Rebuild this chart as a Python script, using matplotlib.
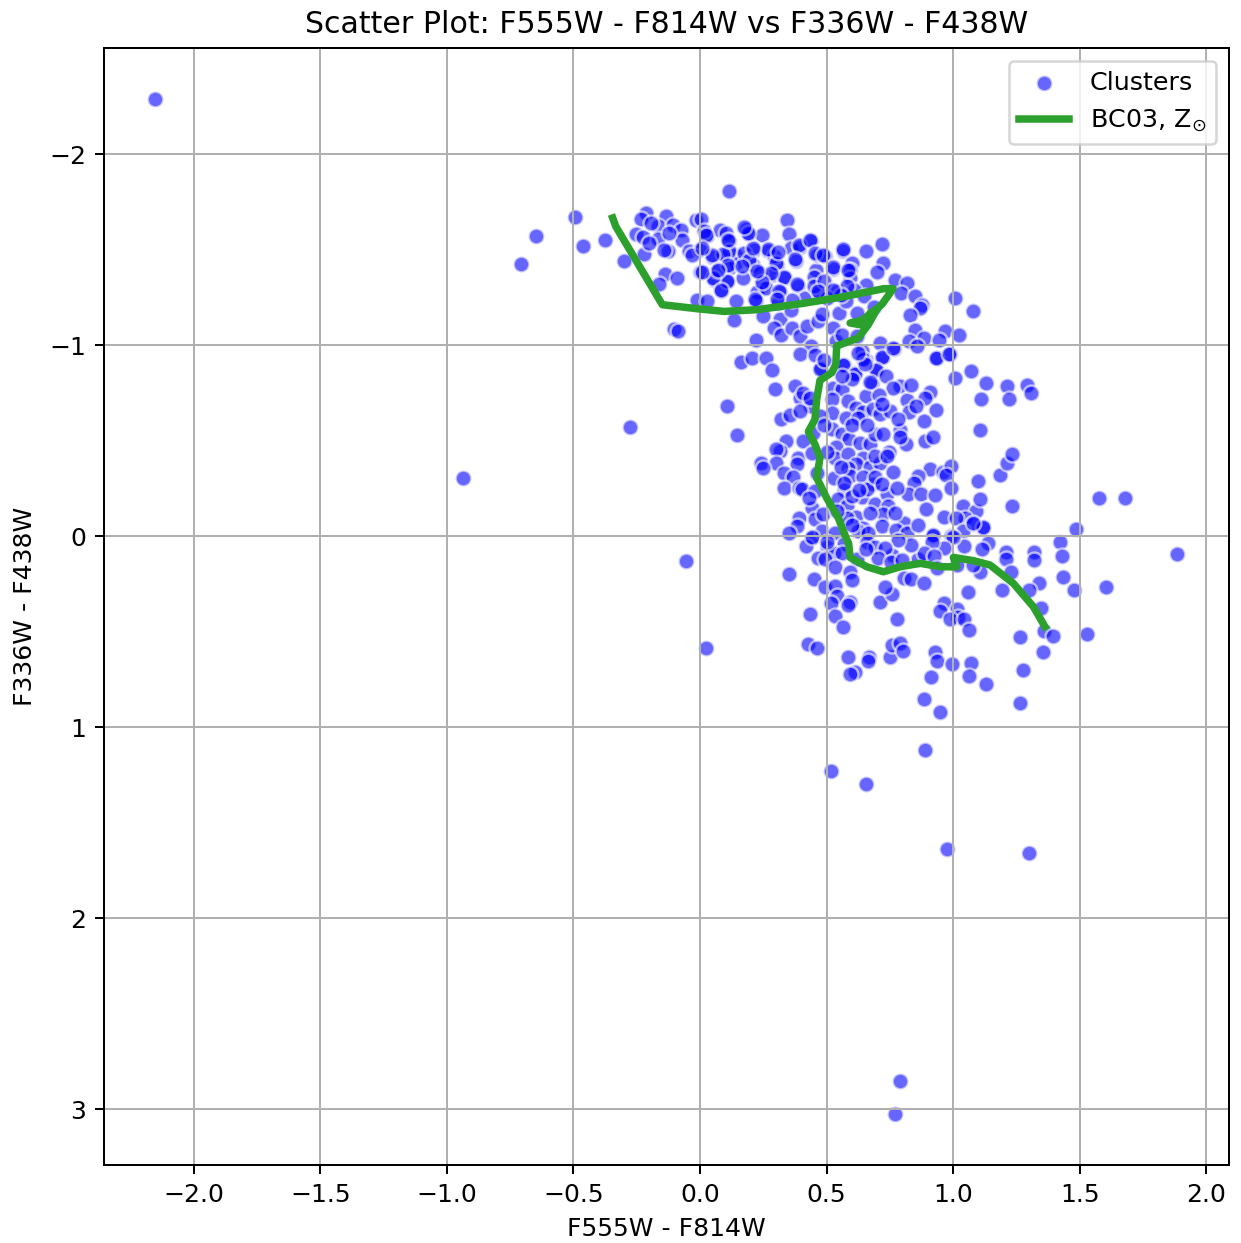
import matplotlib
matplotlib.use("Agg")
import matplotlib.pyplot as plt

clusters_upper = [
(.114,-1.805),(-.214,-1.69),(-.136,-1.674),(-.232,-1.66),(-.017,-1.653),(.003,-1.661),(-.166,-1.621),(-.105,-1.63),
(-.076,-1.6),(-.254,-1.58),(-.224,-1.567),(-.166,-1.555),(-.376,-1.548),(-.072,-1.551),(-.125,-1.494),(-.221,-1.476),
(-.043,-1.49),(0,-1.5),(-.3,-1.438),(-.138,-1.372),(-.092,-1.351),(-.162,-1.321),(0,-1.38),(.026,-1.57),(.079,-1.6),
(.101,-1.586),(.18,-1.61),(.193,-1.58),(.243,-1.578),(.114,-1.543),(.092,-1.46),(.141,-1.473),(.213,-1.496),(.27,-1.49),
(.342,-1.653),(.351,-1.58),(.358,-1.508),(.395,-1.511),(.437,-1.543),(.303,-1.415),(.378,-1.44),(.21,-1.417),(.141,-1.43),
(.114,-1.403),(.055,-1.342),(.108,-1.328),(.171,-1.351),(.084,-1.284),(.286,-1.368),(.334,-1.351),(.388,-1.311),(.243,-1.311),
(.226,-1.277),(.316,-1.277),(.22,-1.232),(.141,-1.232),(-.011,-1.237),(.029,-1.229),(.134,-1.133),(.25,-1.15),(.316,-1.136),
(.292,-1.089),(.321,-1.05),(.364,-1.089),(.393,-1.045),(.424,-1.098),(.466,-1.124),(.483,-1.162),(.414,-1.246),(.358,-1.185),
(.309,-1.22),(.472,-1.272),(.542,-1.281),(.457,-1.394),(.45,-1.354),(.526,-1.398),(.463,-1.473),(.492,-1.464),(.564,-1.494),
(.657,-1.494),(.717,-1.53),(.722,-1.429),(.599,-1.429),(.592,-1.391),(.592,-1.351),(.7,-1.38),(.657,-1.312),(.608,-1.29),
(.772,-1.342),(.818,-1.325),(.795,-1.272),(.849,-1.255),(.878,-1.211),(.871,-1.194),(.829,-1.159),(1.009,-1.244),(1.079,-1.18),
(.851,-1.077),(.966,-1.075),(.884,-1.037),(.825,-1.019),(.943,-1.028),(1.022,-1.054),(.858,-.993),(.937,-.932),(.987,-.953),
(.766,-.979),(.724,-.935),(.713,-1.01),(.654,-.923),(.641,-.967),(.549,-1.168),(.621,-1.168),(.575,-1.229),(.647,-1.255),
(.689,-1.197),(.525,-1.089),(.536,-1.019),(.562,-1.054),(.621,-1.045),(.437,-.993),(.393,-.953),(.454,-.949),(.22,-1.028),
(.163,-.911),(.207,-.932),(.259,-.932),(.286,-.871),(-.103,-1.086),(-.087,-1.072),(.476,-.88),(.568,-.897),(.608,-.853),
(.7,-.871),(1.071,-.862),(-.195,-1.639),(-.122,-1.586),(-.201,-1.534),(-.141,-1.499),(.016,-1.595),(.049,-1.459),(-.03,-1.473),
(.068,-1.386),(.114,-1.49),(.174,-1.482),(.193,-1.447),(.237,-1.377),(.292,-1.464),(.26,-1.298),(.364,-1.237),(.45,-1.307),
(.503,-1.246),(.582,-1.307),(.489,-1.333),(.555,-1.263),
]

clusters_upper_dense = [
(.391,-1.524),(.435,-1.55),(.375,-1.449),(.563,-1.501),(.455,-1.48),(.487,-1.471),
(.527,-1.407),(.586,-1.393),(.3,-1.428),(.332,-1.358),(.281,-1.375),(.385,-1.318),(.312,-1.283),(.244,-1.332),
(.468,-1.283),(.217,-1.239),(.105,-1.337),(.053,-1.349),(.082,-1.288),
(.267,-1.501),(.208,-1.506),(.09,-1.475),(.112,-1.419),(.165,-1.414),(.224,-1.389),
(.188,-1.585),(.174,-1.62),(.024,-1.576),(.112,-1.55),(.046,-1.471),(.007,-1.506),(.007,-1.384),
(.072,-1.393),(.527,-1.288),(.31,-1.489),(.303,-1.239),
]

clusters_middle = [
(.645,-.925),(.717,-.937),(.763,-.983),(.932,-.934),(.984,-.951),(.566,-.895),(.474,-.873),(1.128,-.803),(1.007,-.829),
(1.211,-.785),(1.292,-.791),(1.309,-.75),(1.112,-.716),(1.221,-.716),(.296,-.771),(.375,-.785),(.105,-.681),(.147,-.527),
(.318,-.611),(.355,-.633),(.395,-.724),(.434,-.681),(.408,-.75),(.395,-.654),(.526,-.777),(.559,-.768),(.612,-.846),(.599,-.82),
(.678,-.803),(.697,-.867),(.734,-.838),(.789,-.785),(.763,-.777),(.655,-.733),(.708,-.736),(.52,-.716),(.583,-.707),(.618,-.672),
(.645,-.651),(.684,-.663),(.711,-.64),(.75,-.654),(.816,-.71),(.908,-.756),(.888,-.724),(.826,-.651),(.932,-.66),(.884,-.602),
(.789,-.553),(.783,-.611),(.52,-.646),(.474,-.628),(.575,-.62),(.625,-.616),(.447,-.541),(.52,-.558),(.559,-.532),(.589,-.506),
(.634,-.489),(.671,-.48),(.691,-.536),(.724,-.532),(.813,-.48),(.888,-.497),(.921,-.518),(1.105,-.555),(.339,-.497),(.316,-.445),
(.3,-.454),(.405,-.497),(.386,-.407),(.441,-.436),(.539,-.468),(.533,-.41),(.586,-.428),(.747,-.442),(.645,-.41),(.241,-.384),
(.3,-.384),(.25,-.358),(.382,-.375),(.333,-.328),(.368,-.311),(.464,-.332),(.618,-.375),(.671,-.361),(.713,-.384),(.763,-.335),
(.586,-.358),(.592,-.314),(.645,-.311),(.529,-.302),(.684,-.27),(.908,-.352),(.961,-.337),(.993,-.366),(.97,-.318),(.862,-.314),
(.846,-.279),(1.184,-.318),(1.211,-.38),(1.234,-.431),(1.099,-.288),(.993,-.253),(.333,-.253),(.392,-.253),(.401,-.244),(.454,-.236),
(.568,-.241),(.546,-.192),(.579,-.157),(.638,-.206),(.599,-.209),(.658,-.244),(.693,-.166),(.737,-.218),(.743,-.157),(.724,-.113),
(.717,-.052),(.618,-.101),(.579,-.096),(.645,-.044),(.822,-.222),(.875,-.222),(.928,-.213),(.891,-.14),(.963,-.099),(1.039,-.157),
(1.092,-.131),(1.105,-.196),(1.234,-.157),(1.046,-.096),(1.079,-.065),(1.118,-.044),(1.013,-.096),(1.039,-.026),(.805,-.07),
(.776,-.03),(.816,-.017),(.441,-.148),(.391,-.092),(.454,-.087),(.487,-.113),(.382,-.052),(.353,-.017),(.441,.01),(.48,-.026),
(.533,-.017),(.625,-.026),(.664,-.017),(.921,0),(.993,0),
]

clusters_core = [
(.652,-.9),(.626,-.956),(.672,-.808),(.835,-.79),(.49,-.92),(.56,-.84),(.435,-.72),(.72,-.69),(.855,-.68),(.6,-.58),
(.66,-.58),(.79,-.52),(.49,-.58),(.5,-.44),(.69,-.42),(.74,-.42),(.555,-.36),(.69,-.31),(.57,-.28),(.63,-.24),(.72,-.27),
(.78,-.25),(.67,-.12),(.54,-.13),(.43,-.2),(.6,-.06),(.77,-.12),(.86,-.06),
(.5,.06),(.57,.04),(.62,.12),(.66,.03),(.76,.1),(.69,.06),(.86,.12),(.53,.09),(.42,.05),
]

clusters_lower = [
(1.486,-.037),(1.422,.03),(1.429,.103),(1.32,.086),(1.32,.126),(1.208,.082),(1.208,.122),(1.228,.19),(1.341,.244),(1.436,.216),
(1.478,.283),(1.604,.265),(1.301,.283),(1.192,.283),(1.346,.375),(1.057,.295),(1.137,.035),(1.113,.07),(1.117,-.049),(1.08,-.07),
(1.041,.05),(1.001,.003),(.964,.065),(.922,-.005),(.916,.03),(.883,.091),(.925,.105),(.834,.047),(.784,.021),
(.732,.065),(.705,.117),(.754,.138),(.797,.126),(.657,.07),
(.442,.007),(.501,.03),(.468,.113),(.495,.122),(.561,.091),(.534,.161),(.593,.187),(.6,.23),(.35,.199),(.449,.227),
(.492,.265),(.534,.262),(.543,.312),(.518,.353),(.593,.344),(.583,.361),(.712,.344),(.758,.305),(.732,.269),
(.804,.222),(.834,.227),(.886,.248),(.936,.169),(1.014,.152),(.436,.408),(.534,.419),(.563,.475),(.778,.435),(.964,.353),(.949,.391),
(1.014,.384),(1.021,.426),(.988,.436),(1.043,.436),(1.063,.492),(1.107,.187),(1.08,.152),(1.265,.531),(1.359,.496),(1.393,.522),
(1.53,.513),(1.357,.609),(1.278,.702),(1.265,.873),(.426,.567),(.464,.588),(.584,.635),(.668,.632),(.663,.654),(.749,.635),(.758,.571),
(.791,.562),(.801,.6),(.613,.71),(.591,.722),(.929,.606),(.936,.654),(.995,.672),(1.071,.663),(1.063,.731),(1.129,.777),(.913,.74),
(.886,.853),(.949,.92),
]

clusters_outliers = [
(-2.153,-2.288),(-.494,-1.67),(-.462,-1.518),(-.648,-1.571),(-.707,-1.424),(-.277,-.571),(-.936,-.304),(-.055,.131),(.024,.586),
(1.576,-.199),(1.679,-.199),(1.885,.094),(.518,1.23),(.656,1.298),(.889,1.12),(.976,1.639),(1.3,1.66),(.79,2.853),(.77,3.026),
]

model_color1 = [-.345,-.333,-.149,-.011,.095,.226,.397,.555,.726,.763,.72,.685,.64,.593,.64,.672,.7,.664,.625,.54,.537,.537,.52,.474,.461,.454,
                .428,.454,.474,.461,.5,.546,.579,.587,.593,.659,.725,.791,.87,.949,1.014,1.001,1.08,1.146,1.238,1.317,1.363]
model_color2 = [-1.665,-1.621,-1.211,-1.19,-1.176,-1.185,-1.216,-1.25,-1.295,-1.295,-1.215,-1.174,-1.13,-1.115,-1.105,-1.167,-1.19,-1.105,-1.037,-.995,-.914,
                -.899,-.855,-.815,-.716,-.611,-.546,-.48,-.41,-.305,-.2,-.096,.017,.038,.112,.161,.187,.161,.143,.161,.161,.112,.129,.152,.248,.37,.475]

points = (clusters_upper + clusters_upper_dense + clusters_middle + clusters_core
          + clusters_lower + clusters_outliers)
cluster_x = [p[0] for p in points]
cluster_y = [p[1] for p in points]

fig = plt.figure(figsize=(1241/180, 1243/180), dpi=180)
ax = fig.add_axes([104/1241, 1-1165/1243, (1229-104)/1241, (1165-48)/1243])
ax.scatter(cluster_x, cluster_y, s=40, c='blue', alpha=0.6, edgecolors='w', label='Clusters')
ax.plot(model_color1, model_color2, color='tab:green', lw=3, label=r'BC03, Z$_{\odot}$')
ax.set_xlim(-2.355, 2.09)
ax.set_ylim(3.293, -2.555)
ax.set_xticks([-2, -1.5, -1, -.5, 0, .5, 1, 1.5, 2])
ax.set_yticks([-2, -1, 0, 1, 2, 3])
ax.grid(True)
ax.set_xlabel('F555W - F814W')
ax.set_ylabel('F336W - F438W', labelpad=5)
ax.set_title('Scatter Plot: F555W - F814W vs F336W - F438W')
ax.legend(loc='upper right', fontsize=10.15)
fig.savefig('out.png', dpi=180)
